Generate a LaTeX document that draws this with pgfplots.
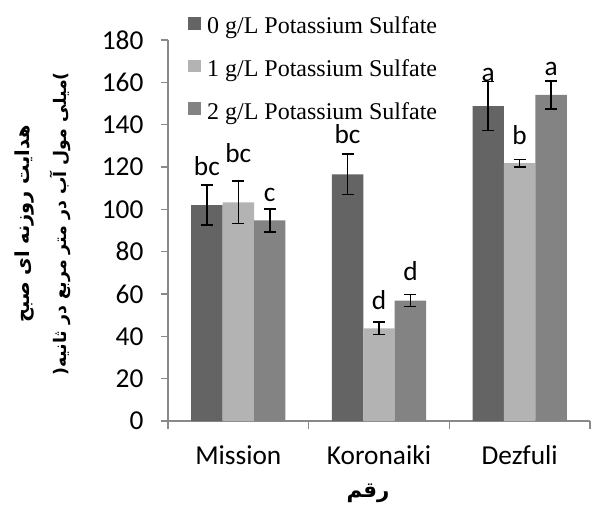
\documentclass[border=0pt]{standalone}
\usepackage{fontspec}
\setmainfont{Carlito}
\newfontfamily\legendfont{Liberation Serif}
\newfontfamily\arabicfont[Script=Arabic]{DejaVu Sans}
\TeXXeTstate=1
\usepackage{pgfplots}
\pgfplotsset{compat=1.18}
\definecolor{cA}{HTML}{646464}
\definecolor{cB}{HTML}{B3B3B3}
\definecolor{cC}{HTML}{838383}
\definecolor{axg}{HTML}{898989}

\pgfplotstableread{
x y e
0 102.0 9.5
1 116.5 9.6
2 148.8 11.5
}\tzero
\pgfplotstableread{
x y e
0 103.3 10.0
1 43.8 3.0
2 121.8 1.8
}\tone
\pgfplotstableread{
x y e
0 94.8 5.4
1 56.9 2.9
2 154.1 6.6
}\ttwo

\begin{document}
\begin{tikzpicture}
\useasboundingbox (-126pt,-63.75pt) rectangle (317.25pt,315.75pt);
\begin{axis}[
  at={(0,0)}, anchor=south west,
  scale only axis, width=316.5pt, height=285.75pt,
  xmin=-0.5, xmax=2.5, ymin=0, ymax=180,
  ytick={0,20,...,180},
  xtick={0,1,2}, xticklabels={Mission,Koronaiki,Dezfuli},
  minor xtick={-0.5,0.5,1.5,2.5},
  axis lines=left, axis line style={-, draw=axg, line width=1pt},
  tick align=outside,
  major tick length=5.25pt, minor tick length=6pt,
  every tick/.append style={axg, line width=1pt},
  every major x tick/.append style={draw=none},
  tick label style={font=\fontsize{20.5}{24}\selectfont},
  yticklabel style={anchor=east, inner sep=0pt, xshift=-13pt},
  xticklabel style={anchor=base, inner sep=0pt, yshift=-27.5pt},
  /pgf/number format/assume math mode=true,
  ybar=0pt, bar width=0.2235,
  legend image code/.code={\fill[#1,draw=none] (0pt,-2.5pt) rectangle (9.75pt,7pt);},
  legend cell align=left,
  legend style={at={(0.047,1.068)}, anchor=north west, draw=none, fill=none,
    font=\legendfont\fontsize{18}{21}\selectfont, inner sep=0pt, row sep=13.75pt,
    column sep=2.5pt},
  clip=false,
  error bars/y dir=both, error bars/y explicit,
  error bars/error bar style={black, line width=1.1pt},
  error bars/error mark options={rotate=90, mark size=4.5pt, black, line width=1.1pt},
]
\addplot[fill=cA, draw=none, bar shift=-0.2235] table[x=x, y=y, y error=e] {\tzero};
\addplot[fill=cB, draw=none, bar shift=0] table[x=x, y=y, y error=e] {\tone};
\addplot[fill=cC, draw=none, bar shift=0.2235] table[x=x, y=y, y error=e] {\ttwo};
\legend{0 g/L Potassium Sulfate, 1 g/L Potassium Sulfate, 2 g/L Potassium Sulfate}
\begin{scope}[every node/.style={anchor=base, inner sep=0pt, font=\fontsize{20.5}{24}\selectfont}]
\node at (axis cs:-0.2235,116.2) {bc};
\node at (axis cs:0,121.9) {bc};
\node at (axis cs:0.2235,103.9) {c};
\node at (axis cs:0.7765,131.3) {bc};
\node at (axis cs:1,52.8) {d};
\node at (axis cs:1.2235,66.5) {d};
\node at (axis cs:1.7765,160.6) {a};
\node at (axis cs:2,130.4) {b};
\node at (axis cs:2.2235,163.4) {a};
\end{scope}
\end{axis}
\node[rotate=90, font=\arabicfont\bfseries\fontsize{14.5}{16}\selectfont] at (-107.25pt,147.75pt) {\beginR هدایت روزنه ای صبح\endR};
\node[rotate=90, font=\arabicfont\bfseries\fontsize{13}{15}\selectfont] at (-81pt,147.75pt) {(\beginR میلی مول آب در متر مربع در ثانیه\endR)};
\node[font=\arabicfont\bfseries\fontsize{16}{18}\selectfont] at (150pt,-54pt) {\beginR رقم\endR};
\end{tikzpicture}
\end{document}
